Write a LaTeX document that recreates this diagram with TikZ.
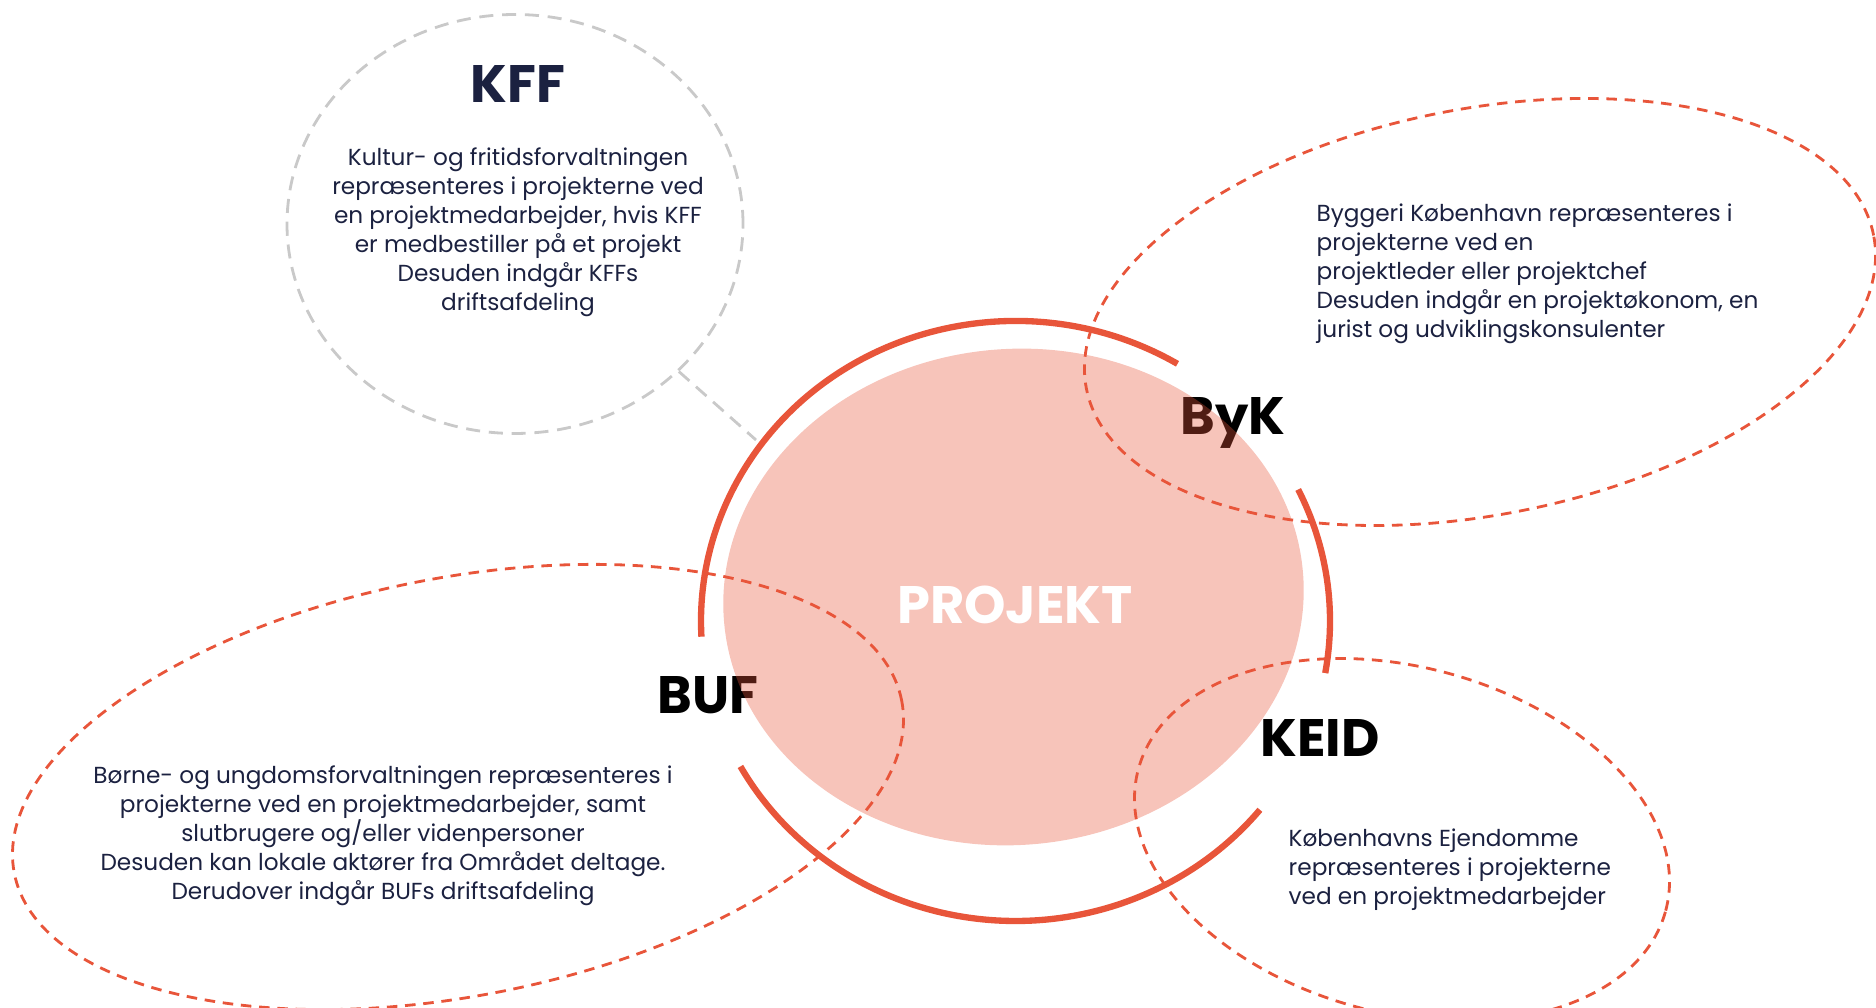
\documentclass[tikz,border=0pt]{standalone}
\usepackage{fontspec}
\setmainfont{Poppins}
\newfontfamily\headfont{Poppins}
\usetikzlibrary{shapes.geometric}
\definecolor{projred}{HTML}{E8553A}
\definecolor{navy}{HTML}{1B2140}
\definecolor{palegray}{HTML}{C9C9C9}
\tikzstyle{blob}=[draw=projred, line width=0.8pt, dash pattern=on 3pt off 2.2pt, ellipse, inner sep=0pt]
\tikzstyle{unit}=[font=\headfont\bfseries\fontsize{15}{17}\selectfont, inner sep=0pt]
\tikzstyle{info}=[font=\fontsize{6.6}{8.25}\selectfont, text=navy, inner sep=0pt]
\tikzstyle{ring}=[draw=projred, line width=1.8pt]

\begin{document}
\begin{tikzpicture}
\useasboundingbox (0,0) rectangle (18.76,10.08);
% the KFF bubble and its link
\node[draw=palegray, line width=0.8pt, dash pattern=on 4pt off 2.5pt, ellipse, inner sep=0pt, minimum width=4.56cm, minimum height=4.19cm] (kff) at (5.15,7.84) {};
\node[unit, text=navy] (kffname) at (5.18,9.24) {KFF};
\node[info, align=center] (kfftext) at (5.18,7.755) {Kultur- og fritidsforvaltningen\\repræsenteres i projekterne ved\\en projektmedarbejder, hvis KFF\\er medbestiller på et projekt\\Desuden indgår KFFs\\driftsafdeling};
\coordinate (kffend) at (7.56,5.68);
\draw[palegray, line width=0.8pt, dash pattern=on 4pt off 2.5pt] (kff.-42) -- (kffend);
% the three red bubbles
\node[blob, minimum width=8.02cm, minimum height=4.06cm, rotate=11] (byk) at (14.80,6.96) {};
\node[blob, minimum width=9.04cm, minimum height=4.18cm, rotate=11] (buf) at (4.58,2.21) {};
\node[blob, minimum width=5.46cm, minimum height=3.46cm, rotate=-15] (keid) at (14.02,1.68) {};
\node[info, align=left, anchor=west] (byktext) at (13.16,7.345) {Byggeri København repræsenteres i\\projekterne ved en\\projektleder eller projektchef\\Desuden indgår en projektøkonom, en\\jurist og udviklingskonsulenter};
\node[info, align=center] (buftext) at (3.83,1.72) {Børne- og ungdomsforvaltningen repræsenteres i\\projekterne ved en projektmedarbejder, samt\\slutbrugere og/eller videnpersoner\\Desuden kan lokale aktører fra Området deltage.\\Derudover indgår BUFs driftsafdeling};
\node[info, align=left, anchor=west] (keidtext) at (12.88,1.38) {Københavns Ejendomme\\repræsenteres i projekterne\\ved en projektmedarbejder};
% the unit names
\node[unit] (bykname) at (12.33,5.85) {ByK};
\node[unit] (bufname) at (7.08,3.13) {BUF};
\node[unit] (keidname) at (13.20,2.70) {KEID};
% the project in the middle
\node[ellipse, fill=projred, fill opacity=0.35, minimum width=5.81cm, minimum height=4.96cm, rotate=5] (proj) at (10.135,4.11) {};
\node[unit, text=white] (projname) at (10.15,4.03) {PROJEKT};
% the broken ring
\coordinate (mid) at (10.155,3.87);
\draw[ring] (mid) ++(59:3.145 and 3.00) arc[start angle=59, end angle=183, x radius=3.145, y radius=3.00];
\draw[ring] (mid) ++(-10:3.145 and 3.00) arc[start angle=-10, end angle=26, x radius=3.145, y radius=3.00];
\draw[ring] (mid) ++(209:3.145 and 3.00) arc[start angle=209, end angle=321, x radius=3.145, y radius=3.00];
\end{tikzpicture}
\end{document}
